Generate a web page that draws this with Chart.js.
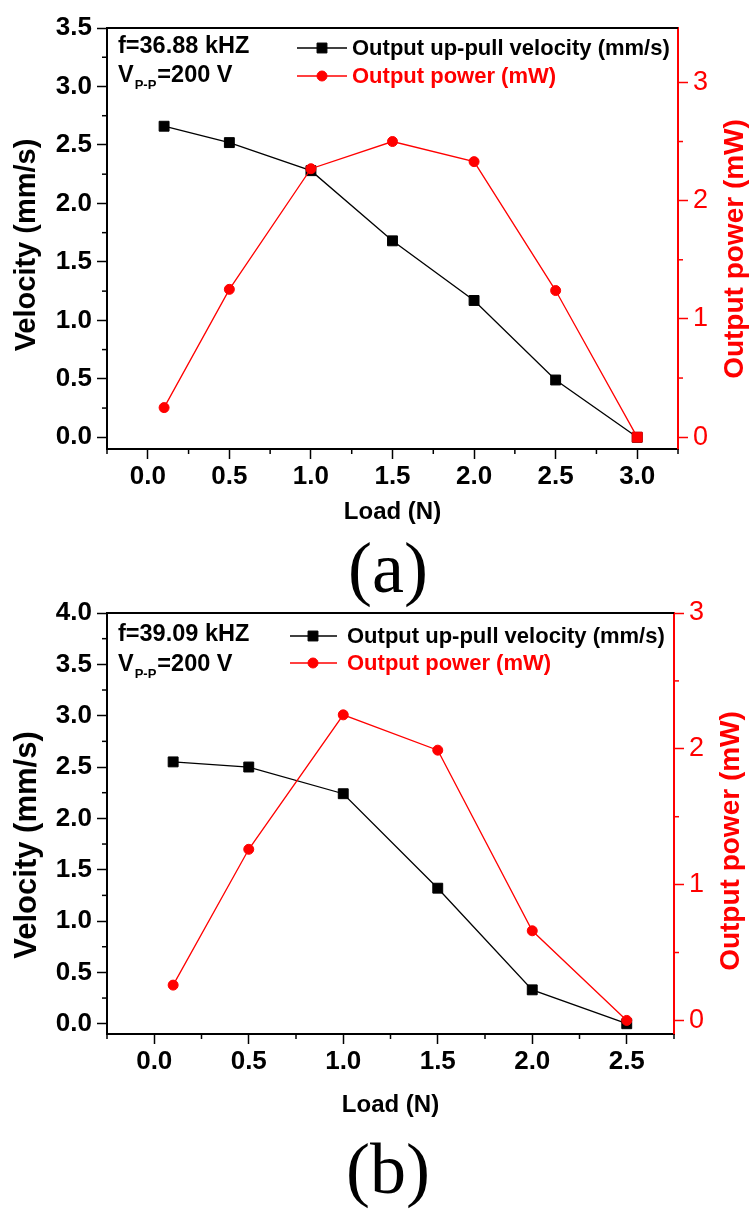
<!DOCTYPE html>
<html><head><meta charset="utf-8">
<script src="https://cdn.jsdelivr.net/npm/chart.js@4.4.1/dist/chart.umd.min.js"></script>
<style>
html,body{margin:0;padding:0;background:#fff;width:750px;height:1209px;overflow:hidden;position:relative}
canvas{position:absolute;left:0}
#ca{top:0px}
#cb{top:585px}
.lbl{position:absolute;font-family:"Liberation Serif","Times New Roman",serif;font-size:72px;line-height:72px;width:200px;left:288px;text-align:center;color:#000}
</style></head><body>
<canvas id="ca" width="750" height="545"></canvas>
<canvas id="cb" width="750" height="545"></canvas>
<div class="lbl" style="top:532px">(a)</div>
<div class="lbl" style="top:1133px">(b)</div>
<script>
// ---------- data: panel (a) ----------
const loadA = [0.1, 0.5, 1.0, 1.5, 2.0, 2.5, 3.0];
const velocityA = [2.66, 2.52, 2.28, 1.68, 1.17, 0.49, 0.0];
const powerA = [0.25, 1.25, 2.27, 2.50, 2.33, 1.24, 0.0];
const xTicksA = [0.0, 0.5, 1.0, 1.5, 2.0, 2.5, 3.0];
const xMinorA = [-0.25, 0.25, 0.75, 1.25, 1.75, 2.25, 2.75, 3.25];
const yTicksA = [0.0, 0.5, 1.0, 1.5, 2.0, 2.5, 3.0, 3.5];
const yMinorA = [0.25, 0.75, 1.25, 1.75, 2.25, 2.75, 3.25];
const y2TicksA = [0, 1, 2, 3];
const y2MinorA = [0.5, 1.5, 2.5];

// ---------- data: panel (b) ----------
const loadB = [0.1, 0.5, 1.0, 1.5, 2.0, 2.5];
const velocityB = [2.55, 2.50, 2.24, 1.32, 0.33, 0.0];
const powerB = [0.26, 1.26, 2.25, 1.99, 0.66, 0.0];
const xTicksB = [0.0, 0.5, 1.0, 1.5, 2.0, 2.5];
const xMinorB = [-0.25, 0.25, 0.75, 1.25, 1.75, 2.25, 2.75];
const yTicksB = [0.0, 0.5, 1.0, 1.5, 2.0, 2.5, 3.0, 3.5, 4.0];
const yMinorB = [0.25, 0.75, 1.25, 1.75, 2.25, 2.75, 3.25, 3.75];
const y2TicksB = [0, 1, 2, 3];
const y2MinorB = [0.5, 1.5, 2.5];

// ---------- text ----------
const velLabel = 'Output up-pull velocity (mm/s)';
const powLabel = 'Output power (mW)';
const xTitle = 'Load (N)';
const yTitle = 'Velocity (mm/s)';
const y2Title = 'Output power (mW)';
const freqA = 'f=36.88 kHZ';
const freqB = 'f=39.09 kHZ';

const FAM = '"Liberation Sans", Arial, Helvetica, sans-serif';
const BLACK = '#000000';
const RED = '#ff0000';

function vText(ctx, text, x, y, font, color) {
  ctx.save();
  ctx.translate(x, y);
  ctx.rotate(-Math.PI / 2);
  ctx.font = font; ctx.fillStyle = color;
  ctx.textAlign = 'center'; ctx.textBaseline = 'middle';
  ctx.fillText(text, 0, 0);
  ctx.restore();
}

const decor = {
  id: 'decor',
  afterDraw(chart, args, o) {
    const ctx = chart.ctx, a = chart.chartArea;
    const sx = chart.scales.x, sy = chart.scales.y, sy2 = chart.scales.y2;
    const seg = (x0, y0, x1, y1) => { ctx.beginPath(); ctx.moveTo(x0, y0); ctx.lineTo(x1, y1); ctx.stroke(); };
    ctx.save();
    // top frame
    ctx.strokeStyle = BLACK; ctx.lineWidth = 2;
    seg(a.left - 1, a.top, a.right, a.top);
    // minor ticks
    ctx.lineWidth = 1.5;
    o.minorX.forEach(v => { const p = sx.getPixelForValue(v); seg(p, a.bottom, p, a.bottom + 5); });
    o.minorY.forEach(v => { const p = sy.getPixelForValue(v); seg(a.left - 5, p, a.left, p); });
    ctx.strokeStyle = RED;
    o.minorY2.forEach(v => { const p = sy2.getPixelForValue(v); seg(a.right, p, a.right + 5, p); });
    // y titles
    vText(ctx, yTitle, o.yTitlePos[0], o.yTitlePos[1], 'bold ' + o.yTitleSize + 'px ' + FAM, BLACK);
    vText(ctx, y2Title, o.y2TitlePos[0], o.y2TitlePos[1], 'bold 28px ' + FAM, RED);
    // legend
    chart.data.datasets.forEach((ds, i) => {
      const y = o.legendY[i];
      ctx.strokeStyle = ds.borderColor; ctx.lineWidth = 1.5;
      seg(o.legendX[0], y, o.legendX[2], y);
      ctx.fillStyle = ds.backgroundColor; ctx.strokeStyle = ds.borderColor; ctx.lineWidth = 1;
      Chart.helpers.drawPoint(ctx, {pointStyle: ds.legendStyle, radius: ds.legendStyle === 'rect' ? 7 : 5, rotation: 0, borderWidth: 1}, o.legendX[1], y);
      ctx.font = 'bold 22px ' + FAM; ctx.fillStyle = ds.borderColor;
      ctx.textAlign = 'left'; ctx.textBaseline = 'middle';
      ctx.fillText(ds.label, o.legendX[3], y + 1);
    });
    // annotation
    ctx.fillStyle = BLACK; ctx.textAlign = 'left'; ctx.textBaseline = 'middle';
    ctx.font = 'bold 23.5px ' + FAM;
    ctx.fillText(o.freq, 118, o.annY[0]);
    let x = 118;
    ctx.fillText('V', x, o.annY[1]);
    x += ctx.measureText('V').width;
    ctx.font = 'bold 13px ' + FAM;
    ctx.fillText('P-P', x + 1, o.annY[1] + 9);
    x += ctx.measureText('P-P').width + 2;
    ctx.font = 'bold 23.5px ' + FAM;
    ctx.fillText('=200 V', x, o.annY[1]);
    ctx.restore();
  }
};

function makeChart(id, p) {
  const pts = (xs, ys) => xs.map((x, i) => ({x: x, y: ys[i]}));
  const tickFont = {family: FAM, size: 26, weight: 'bold'};
  return new Chart(document.getElementById(id), {
    type: 'line',
    data: {
      datasets: [
        {label: velLabel, data: pts(p.load, p.vel), yAxisID: 'y', order: 1,
         borderColor: BLACK, backgroundColor: BLACK, borderWidth: 1.3,
         pointStyle: 'rect', pointRadius: 7, pointBorderWidth: 1, legendStyle: 'rect', tension: 0, clip: false},
        {label: powLabel, data: pts(p.load, p.pow), yAxisID: 'y2', order: 0,
         borderColor: RED, backgroundColor: RED, borderWidth: 1.3,
         pointStyle: p.powStyles, pointRadius: p.powRadii, pointBorderWidth: 1, legendStyle: 'circle', tension: 0, clip: false}
      ]
    },
    options: {
      responsive: false, animation: false, devicePixelRatio: 1,
      layout: {padding: {top: 28, left: 0, right: 0, bottom: 0}},
      plugins: {legend: {display: false}, tooltip: {enabled: false}, decor: p.decor},
      scales: {
        x: {
          type: 'linear', position: 'bottom', min: p.xMin, max: p.xMax,
          afterBuildTicks: s => { s.ticks = p.xTicks.map(v => ({value: v})); },
          afterFit: s => { s.height = 96; },
          grid: {drawOnChartArea: false, tickLength: 10, tickWidth: 1.5, tickColor: BLACK},
          border: {display: true, color: BLACK, width: 2},
          ticks: {color: BLACK, font: tickFont, padding: 2, autoSkip: false, maxRotation: 0,
                  callback: v => Number(v).toFixed(1)},
          title: {display: true, text: xTitle, color: BLACK,
                  font: {family: FAM, size: 24, weight: 'bold', lineHeight: 1},
                  padding: {top: 0, bottom: p.xTitlePad}}
        },
        y: {
          type: 'linear', position: 'left', min: -0.1, max: p.yMax,
          afterBuildTicks: s => { s.ticks = p.yTicks.map(v => ({value: v})); },
          afterFit: s => { s.width = 107; },
          grid: {drawOnChartArea: false, tickLength: 10, tickWidth: 1.5, tickColor: BLACK},
          border: {display: true, color: BLACK, width: 2},
          ticks: {color: BLACK, font: tickFont, padding: 5, autoSkip: false,
                  callback: v => Number(v).toFixed(1)}
        },
        y2: {
          type: 'linear', position: 'right', min: -0.1, max: p.y2Max,
          afterBuildTicks: s => { s.ticks = p.y2Ticks.map(v => ({value: v})); },
          afterFit: s => { s.width = p.y2Width; },
          grid: {drawOnChartArea: false, tickLength: 10, tickWidth: 1.5, tickColor: RED},
          border: {display: true, color: RED, width: 2},
          ticks: {color: RED, font: {family: FAM, size: 27, weight: 'normal'}, padding: 5, autoSkip: false,
                  callback: v => String(Math.round(v))}
        }
      }
    },
    plugins: [decor]
  });
}

makeChart('ca', {
  load: loadA, vel: velocityA, pow: powerA,
  powStyles: ['circle', 'circle', 'circle', 'circle', 'circle', 'circle', 'rect'],
  powRadii: [5, 5, 5, 5, 5, 5, 7],
  xMin: -0.25, xMax: 3.25, xTicks: xTicksA,
  yMax: 3.5, yTicks: yTicksA, y2Max: 3.46, y2Ticks: y2TicksA, y2Width: 72,
  xTitlePad: 21,
  decor: {minorX: xMinorA, minorY: yMinorA, minorY2: y2MinorA,
          yTitlePos: [27, 245], yTitleSize: 29, y2TitlePos: [735, 249],
          legendY: [48, 76], legendX: [297, 322, 347, 352],
          freq: freqA, annY: [47, 76]}
});

makeChart('cb', {
  load: loadB, vel: velocityB, pow: powerB,
  powStyles: 'circle', powRadii: 5,
  xMin: -0.25, xMax: 2.75, xTicks: xTicksB,
  yMax: 4.0, yTicks: yTicksB, y2Max: 3.0, y2Ticks: y2TicksB, y2Width: 76,
  xTitlePad: 13,
  decor: {minorX: xMinorB, minorY: yMinorB, minorY2: y2MinorB,
          yTitlePos: [27, 260], yTitleSize: 31, y2TitlePos: [731, 256],
          legendY: [51, 78], legendX: [290, 313, 337, 347],
          freq: freqB, annY: [50, 80]}
});
</script>
</body></html>
